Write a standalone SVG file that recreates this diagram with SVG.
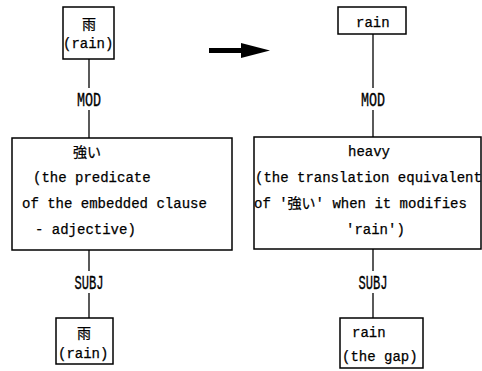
<svg xmlns="http://www.w3.org/2000/svg" width="482" height="371" viewBox="0 0 482 371">
<style>
.box{fill:none;stroke:#000;stroke-width:1.5}
.t{font-family:"Liberation Mono","Noto Sans CJK JP",monospace;font-size:14px;fill:#000;stroke:#000;stroke-width:0.25}
.c{text-anchor:middle}
.lbl{font-family:"Liberation Mono",monospace;font-size:16px;fill:#000;text-anchor:middle;stroke:#000;stroke-width:0.3}
.ln{stroke:#000;stroke-width:1.3;fill:none}
</style>
<rect width="482" height="371" fill="#fff"/>
<g id="connectors">
<line class="ln" x1="89" y1="59" x2="89" y2="88"/>
<line class="ln" x1="89" y1="110" x2="89" y2="138"/>
<line class="ln" x1="89" y1="250" x2="89" y2="271"/>
<line class="ln" x1="89" y1="293" x2="89" y2="318"/>
<line class="ln" x1="373" y1="34" x2="373" y2="88"/>
<line class="ln" x1="373" y1="110" x2="373" y2="137"/>
<line class="ln" x1="373" y1="249" x2="373" y2="271"/>
<line class="ln" x1="373" y1="293" x2="373" y2="318"/>
<g transform="translate(89,106) scale(1,1.25)"><text class="lbl" x="0" y="0" textLength="24" lengthAdjust="spacingAndGlyphs">MOD</text></g>
<g transform="translate(373,106) scale(1,1.25)"><text class="lbl" x="0" y="0" textLength="24" lengthAdjust="spacingAndGlyphs">MOD</text></g>
<g transform="translate(89,289) scale(1,1.25)"><text class="lbl" x="0" y="0" textLength="29" lengthAdjust="spacingAndGlyphs">SUBJ</text></g>
<g transform="translate(373,289) scale(1,1.25)"><text class="lbl" x="0" y="0" textLength="29" lengthAdjust="spacingAndGlyphs">SUBJ</text></g>
</g>
<g id="arrow">
<rect x="209" y="48" width="34" height="5" fill="#000"/>
<polygon points="241,43 270,50.5 241,58" fill="#000"/>
</g>
<g id="left-top">
<rect class="box" x="63" y="7" width="51" height="52"/>
<text class="t c" x="89" y="29">雨</text>
<text class="t" x="63" y="48">(rain)</text>
</g>
<g id="left-mid">
<rect class="box" x="12" y="138" width="220" height="112"/>
<text class="t" x="73" y="157">強い</text>
<text class="t" x="33" y="182">(the predicate</text>
<text class="t" x="22" y="208">of the embedded clause</text>
<text class="t" x="35" y="234">- adjective)</text>
</g>
<g id="left-bottom">
<rect class="box" x="56" y="318" width="57" height="46"/>
<text class="t c" x="84" y="338">雨</text>
<text class="t" x="58" y="358">(rain)</text>
</g>
<g id="right-top">
<rect class="box" x="338" y="7" width="68" height="27"/>
<text class="t" x="356" y="27">rain</text>
</g>
<g id="right-mid">
<rect class="box" x="254" y="137" width="227" height="112"/>
<text class="t" x="348" y="156">heavy</text>
<text class="t" x="255" y="182">(the translation equivalent</text>
<text class="t" x="254" y="208">of '強い' when it modifies</text>
<text class="t" x="346" y="234">'rain')</text>
</g>
<g id="right-bottom">
<rect class="box" x="340" y="318" width="83" height="50"/>
<text class="t" x="352" y="337">rain</text>
<text class="t" x="342" y="361">(the gap)</text>
</g>
</svg>
